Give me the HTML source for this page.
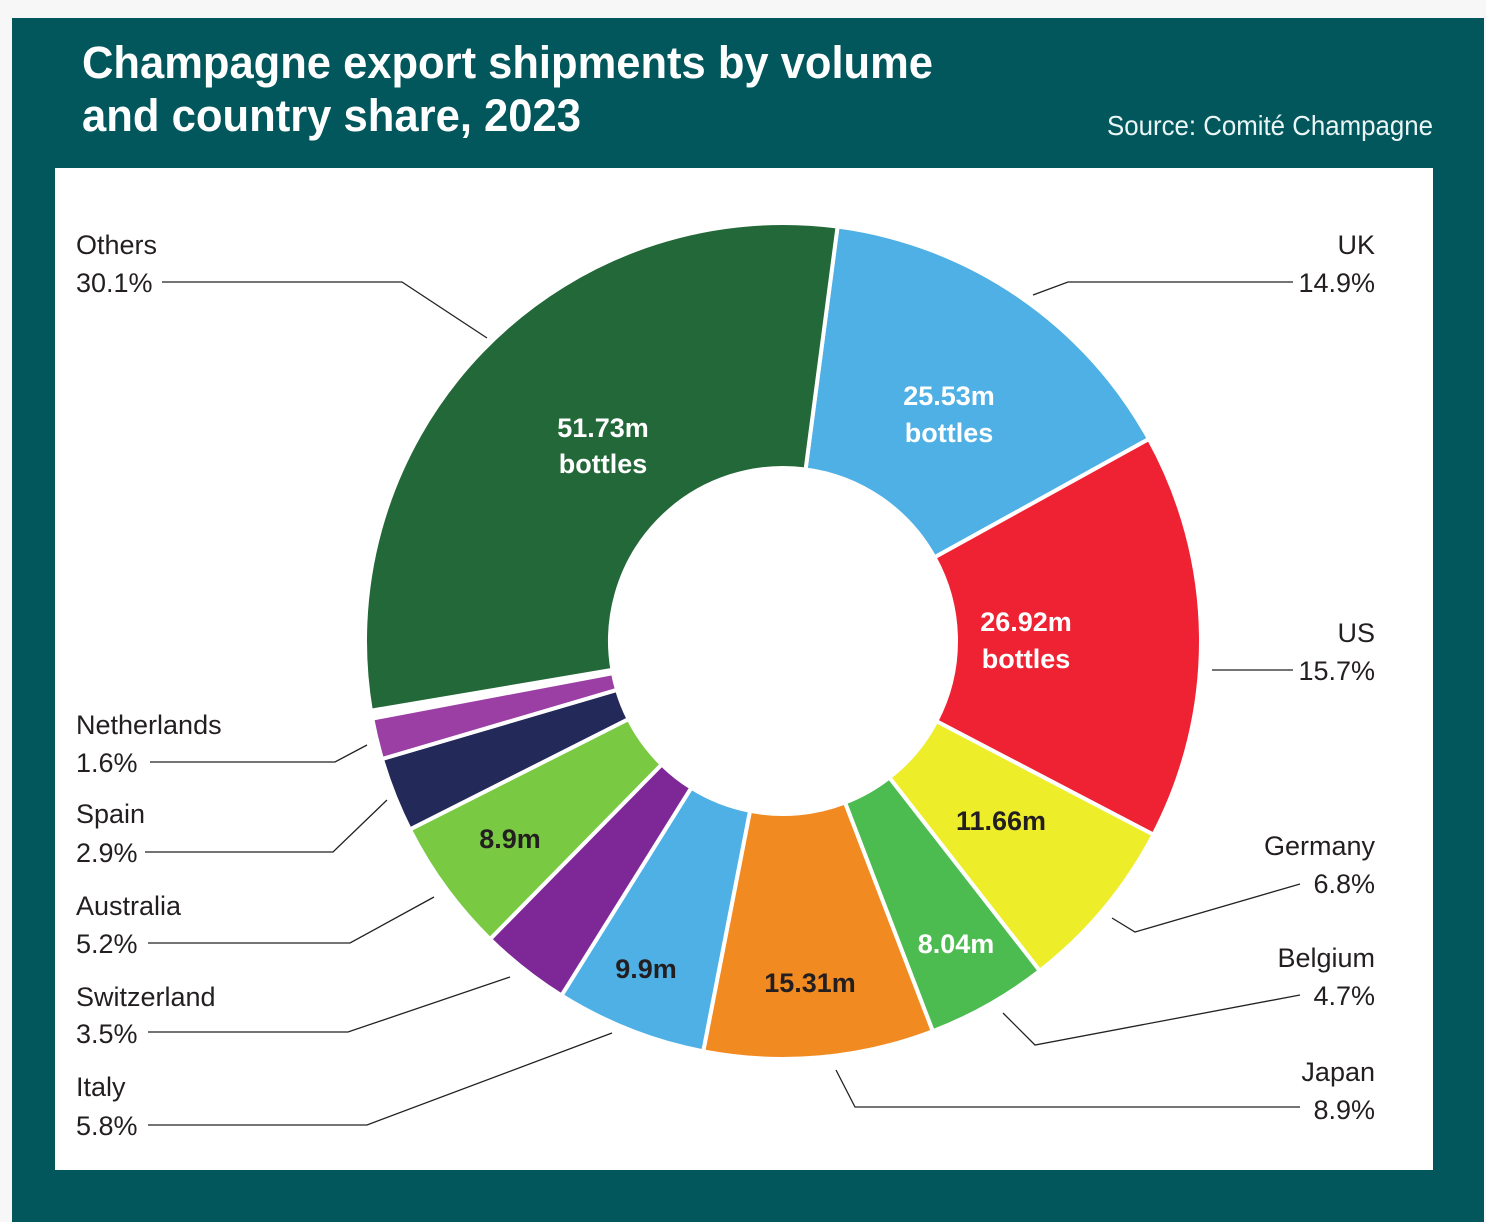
<!DOCTYPE html>
<html><head><meta charset="utf-8">
<style>
html,body{margin:0;padding:0;background:#f7f7f7;}
svg{display:block;}
text{font-family:"Liberation Sans",sans-serif;}
</style></head>
<body>
<svg id="s" width="1486" height="1222" viewBox="0 0 1486 1222" xmlns="http://www.w3.org/2000/svg">
<rect x="0" y="0" width="1486" height="1222" fill="#f7f7f7"/>
<rect x="12" y="18" width="1472" height="1204" fill="#02575c"/>
<rect x="55" y="168" width="1378" height="1002" fill="#ffffff"/>
<text x="82" y="78" fill="#fff" font-weight="bold" font-size="45" textLength="851" lengthAdjust="spacingAndGlyphs">Champagne export shipments by volume</text>
<text x="82" y="131" fill="#fff" font-weight="bold" font-size="45" textLength="499" lengthAdjust="spacingAndGlyphs">and country share, 2023</text>
<text x="1107" y="135" fill="#eaf6f6" font-size="28" textLength="326" lengthAdjust="spacingAndGlyphs">Source: Comité Champagne</text>
<g id="donut"></g>
<g stroke="#222" stroke-width="1.3" fill="none">
<polyline points="162,282 402,282 487,338"/>
<polyline points="1293,282 1068,282 1033,295"/>
<polyline points="1293,670 1212,670"/>
<polyline points="1300,884 1135,932 1112,918"/>
<polyline points="1300,995 1035,1045 1003,1013"/>
<polyline points="1300,1107 855,1107 836,1070"/>
<polyline points="150,762 335,762 367,745"/>
<polyline points="145,852 333,852 387,800"/>
<polyline points="148,943 350,943 434,897"/>
<polyline points="148,1032 348,1032 510,977"/>
<polyline points="148,1125 367,1125 612,1033"/>
</g>
<g fill="#231f20" font-size="27">
<text x="76" y="254">Others</text><text x="76" y="292">30.1%</text>
<text x="76" y="734">Netherlands</text><text x="76" y="772">1.6%</text>
<text x="76" y="823">Spain</text><text x="76" y="862">2.9%</text>
<text x="76" y="915">Australia</text><text x="76" y="953">5.2%</text>
<text x="76" y="1006">Switzerland</text><text x="76" y="1043">3.5%</text>
<text x="76" y="1096">Italy</text><text x="76" y="1135">5.8%</text>
<g text-anchor="end">
<text x="1375" y="254">UK</text><text x="1375" y="292">14.9%</text>
<text x="1375" y="642">US</text><text x="1375" y="680">15.7%</text>
<text x="1375" y="855">Germany</text><text x="1375" y="893">6.8%</text>
<text x="1375" y="967">Belgium</text><text x="1375" y="1005">4.7%</text>
<text x="1375" y="1081">Japan</text><text x="1375" y="1119">8.9%</text>
</g>
</g>
<g font-size="27" font-weight="bold" text-anchor="middle">
<text x="603" y="437" fill="#fff">51.73m</text><text x="603" y="473" fill="#fff">bottles</text>
<text x="949" y="405" fill="#fff">25.53m</text><text x="949" y="442" fill="#fff">bottles</text>
<text x="1026" y="631" fill="#fff">26.92m</text><text x="1026" y="668" fill="#fff">bottles</text>
<text x="1001" y="830" fill="#231f20">11.66m</text>
<text x="956" y="953" fill="#fff">8.04m</text>
<text x="810" y="992" fill="#231f20">15.31m</text>
<text x="646" y="978" fill="#231f20">9.9m</text>
<text x="510" y="848" fill="#231f20">8.9m</text>
</g>
</svg>
<script>
(function(){
var cx=783,cy=641,R=418,r=173;
var segs=[
[7.5,61.1,"#4fb0e5"],[61.1,117.6,"#ee2233"],[117.6,142.1,"#eded2a"],
[142.1,159.0,"#4cbc50"],[159.0,191.0,"#f28a22"],[191.0,212.0,"#4fb0e5"],
[212.0,224.5,"#7d2896"],[224.5,243.2,"#7ac943"],[243.2,253.6,"#232a5a"],
[253.6,259.3,"#9b3fa5"],[260.4,367.5,"#236838"]];
function pt(a,rad){var t=(a-90)*Math.PI/180;return [cx+rad*Math.cos(t),cy+rad*Math.sin(t)];}
var g=document.getElementById("donut"),h="";
segs.forEach(function(s){
var a0=s[0],a1=s[1],lg=(a1-a0)>180?1:0;
var p0=pt(a0,R),p1=pt(a1,R),q1=pt(a1,r),q0=pt(a0,r);
h+='<path d="M'+p0+' A'+R+','+R+' 0 '+lg+' 1 '+p1+' L'+q1+' A'+r+','+r+' 0 '+lg+' 0 '+q0+' Z" fill="'+s[2]+'" stroke="#fff" stroke-width="4" stroke-linejoin="miter"/>';
});
g.innerHTML=h;
})();
</script>
</body></html>
